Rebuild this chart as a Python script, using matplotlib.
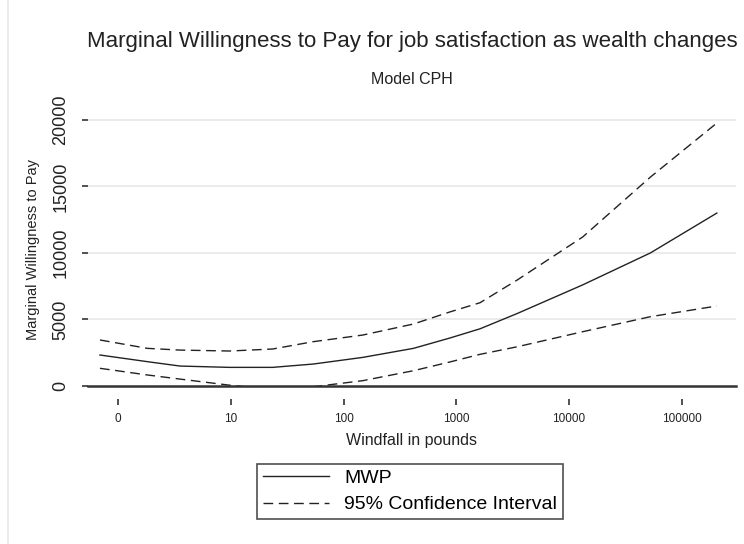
import matplotlib
matplotlib.use("Agg")
import matplotlib.pyplot as plt
from matplotlib.lines import Line2D

plt.rcParams['font.family'] = ['Liberation Sans', 'DejaVu Sans']

# windfall on a log10 scale (0 -> "0", 1 -> "10", ...)
log_windfall = [-0.16, 0.26, 0.55, 0.99, 1.37, 1.73, 2.17, 2.62, 2.94, 3.21, 3.54, 4.12, 4.72, 5.31]
mwp = [2330, 1830, 1500, 1400, 1400, 1650, 2150, 2830, 3600, 4300, 5450, 7600, 10000, 13000]
ci_upper = [3460, 2830, 2700, 2630, 2780, 3330, 3830, 4660, 5560, 6260, 7970, 11200, 15700, 19770]
ci_lower = [1330, 830, 520, 60, -250, -60, 400, 1150, 1800, 2380, 2950, 4080, 5210, 6015]

xtick_pos = [0, 1, 2, 3, 4, 5]
xtick_labels = ["0", "10", "100", "1000", "10000", "100000"]
ytick_pos = [0, 5000, 10000, 15000, 20000]

fig = plt.figure(figsize=(7.44, 5.44), dpi=100)
ax = fig.add_axes([88 / 744, 1 - 386 / 544, (736 - 88) / 744, (386 - 112) / 544])

ax.plot(log_windfall, mwp, color='#222222', lw=1.0, label='MWP')
ax.plot(log_windfall, ci_upper, color='#222222', lw=1.0, dashes=(7, 4), label='95% Confidence Interval')
ax.plot(log_windfall, ci_lower, color='#222222', lw=1.0, dashes=(7, 4))

ax.set_xlim(-0.266, 5.48)
ax.set_ylim(0, 20600)

for s in ['top', 'right', 'left']:
    ax.spines[s].set_visible(False)
ax.spines['bottom'].set_position(('outward', 9.4))
ax.spines['bottom'].set_visible(False)
ax.axhline(0, color='#333333', lw=1.8, zorder=3, clip_on=False)

ax.set_yticks(ytick_pos)
ax.set_yticklabels([str(v) for v in ytick_pos], rotation=90, va='center', fontsize=13)
ax.tick_params(axis='y', direction='out', length=4.3, width=1.2, color='#333333', pad=9, labelcolor='#222222')
for v in ytick_pos[1:]:
    ax.axhline(v, color='#e8e8e8', lw=1.2, zorder=0)

ax.set_xticks(xtick_pos)
ax.set_xticklabels(xtick_labels, fontsize=8.5, family=['Liberation Sans Narrow', 'Liberation Sans'])
ax.tick_params(axis='x', direction='out', length=4.3, width=1.2, color='#333333', pad=5.5, labelcolor='#222222')

ax.set_xlabel('Windfall in pounds', fontsize=11.5, color='#222222', labelpad=6)
ax.set_ylabel('Marginal Willingness to Pay', fontsize=10.5, color='#222222', labelpad=9)

fig.text(412 / 744, 1 - 42 / 544, 'Marginal Willingness to Pay for job satisfaction as wealth changes',
         ha='center', va='center', fontsize=16, color='#222222')
fig.text(412 / 744, 1 - 79 / 544, 'Model CPH', ha='center', va='center', fontsize=11.5, color='#222222')

leg = fig.legend(loc='center', bbox_to_anchor=(410 / 744, 1 - 491.5 / 544), fontsize=14,
                 frameon=True, fancybox=False, edgecolor='#222222', handlelength=3.4,
                 borderpad=0.3, labelspacing=0.45, handletextpad=0.8, borderaxespad=0)
leg.get_frame().set_linewidth(1.2)

fig.add_artist(Line2D([8 / 744, 8 / 744], [0, 1], color='#ebebeb', lw=1.5))

fig.savefig('out.png', dpi=100)
